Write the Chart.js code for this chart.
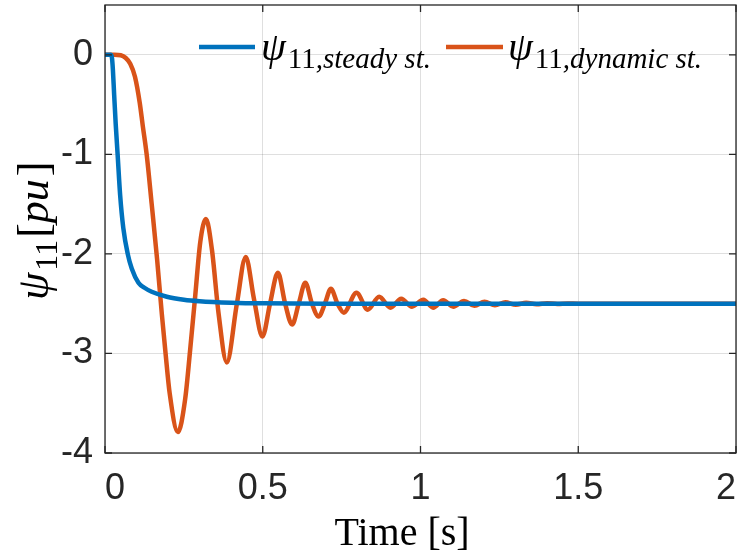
<!DOCTYPE html>
<html>
<head>
<meta charset="utf-8">
<script src="https://cdn.jsdelivr.net/npm/chart.js@4.4.0/dist/chart.umd.min.js"></script>
<style>
  html, body { margin: 0; padding: 0; background: #fff; }
  #wrap { width: 737px; height: 560px; }
</style>
</head>
<body>
<div id="wrap"><canvas id="fluxChart" width="737" height="560"></canvas></div>
<script>
// values
const steadyTime = [0, 0.018, 0.022, 0.025, 0.029, 0.034, 0.040, 0.048, 0.058, 0.072, 0.085, 0.106, 0.125, 0.148, 0.196, 0.25, 0.3, 0.4, 0.5, 0.7, 1.0, 1.5, 2.0];
const steadyFlux = [0, 0, -0.03, -0.15, -0.40, -0.70, -1.00, -1.41, -1.74, -2.00, -2.15, -2.29, -2.34, -2.38, -2.43, -2.46, -2.475, -2.49, -2.497, -2.5, -2.5, -2.5, -2.5];

const dynamicTime = [0, 0.03, 0.05, 0.065, 0.08, 0.095, 0.11, 0.12, 0.132, 0.148, 0.165, 0.18, 0.192, 0.205, 0.231, 0.254, 0.27, 0.286, 0.302, 0.32, 0.339, 0.36, 0.386, 0.418, 0.446, 0.472, 0.499, 0.523, 0.548, 0.571, 0.593, 0.614, 0.635, 0.656, 0.677, 0.697, 0.716, 0.737, 0.757, 0.797, 0.833, 0.869, 0.905, 0.939, 0.973, 1.009, 1.040, 1.072, 1.104, 1.138, 1.171, 1.203, 1.236, 1.269, 1.302, 1.335, 1.368, 1.401, 1.434, 1.467, 1.5, 2.0];
const dynamicFlux = [0, 0, -0.005, -0.03, -0.09, -0.22, -0.48, -0.72, -1.0, -1.5, -2.05, -2.6, -3.0, -3.4, -3.79, -3.46, -2.96, -2.42, -1.88, -1.65, -1.96, -2.6, -3.09, -2.5, -2.03, -2.45, -2.83, -2.5, -2.19, -2.5, -2.71, -2.5, -2.29, -2.5, -2.63, -2.5, -2.35, -2.5, -2.59, -2.39, -2.56, -2.43, -2.54, -2.45, -2.53, -2.46, -2.54, -2.465, -2.53, -2.472, -2.522, -2.48, -2.515, -2.487, -2.51, -2.492, -2.506, -2.495, -2.503, -2.498, -2.5, -2.5];

const xTicks = [0, 0.5, 1, 1.5, 2];
const yTicks = [-4, -3, -2, -1, 0];

const blue = "#0072BD";
const orange = "#D95319";
const axisColor = "#262626";

function toPoints(xs, ys) {
  return xs.map((x, i) => ({ x: x, y: ys[i] }));
}

// psi with subscripts (legend + y title)
function drawPsi(ctx, x, y, size, subItalic, tail) {
  const sub = Math.round(size * 0.72);
  ctx.font = "italic " + size + "px 'Liberation Serif'";
  ctx.fillText("\u03C8", x, y);
  x += ctx.measureText("\u03C8").width + 2;
  ctx.font = sub + "px 'Liberation Serif'";
  ctx.fillText("11", x, y + size * 0.2);
  x += ctx.measureText("11").width;
  if (subItalic) {
    ctx.font = "italic " + sub + "px 'Liberation Serif'";
    ctx.fillText(subItalic, x, y + size * 0.2);
    x += ctx.measureText(subItalic).width;
  }
  if (tail) {
    x += 2;
    ctx.font = size + "px 'Liberation Serif'";
    ctx.fillText("[", x, y);
    x += ctx.measureText("[").width;
    ctx.font = "italic " + size + "px 'Liberation Serif'";
    ctx.fillText("pu", x, y);
    x += ctx.measureText("pu").width + 3;
    ctx.font = size + "px 'Liberation Serif'";
    ctx.fillText("]", x, y);
    x += ctx.measureText("]").width;
  }
  return x;
}

const frame = {
  id: "frame",
  afterDatasetsDraw(chart) {
    const { ctx, chartArea: a, scales } = chart;
    ctx.save();
    ctx.strokeStyle = axisColor;
    ctx.lineWidth = 1.3;
    ctx.strokeRect(a.left, a.top, a.right - a.left, a.bottom - a.top);
    const len = 7;
    ctx.beginPath();
    xTicks.forEach(v => {
      const px = scales.x.getPixelForValue(v);
      ctx.moveTo(px, a.bottom); ctx.lineTo(px, a.bottom - len);
      ctx.moveTo(px, a.top); ctx.lineTo(px, a.top + len);
    });
    yTicks.forEach(v => {
      const py = scales.y.getPixelForValue(v);
      ctx.moveTo(a.left, py); ctx.lineTo(a.left + len, py);
      ctx.moveTo(a.right, py); ctx.lineTo(a.right - len, py);
    });
    ctx.stroke();

    // legend
    ctx.textBaseline = "alphabetic";
    ctx.fillStyle = "#000";
    ctx.lineWidth = 4.5;
    ctx.strokeStyle = blue;
    ctx.beginPath(); ctx.moveTo(199, 47); ctx.lineTo(255, 47); ctx.stroke();
    drawPsi(ctx, 261, 60, 40, ",steady st.", false);
    ctx.strokeStyle = orange;
    ctx.beginPath(); ctx.moveTo(446, 47); ctx.lineTo(503, 47); ctx.stroke();
    drawPsi(ctx, 508, 60, 40, ",dynamic st.", false);

    // x title
    ctx.font = "40px 'Liberation Serif'";
    ctx.textAlign = "center";
    ctx.fillText("Time [s]", 402, 545);

    // y title
    ctx.translate(48, 226);
    ctx.rotate(-Math.PI / 2);
    ctx.textAlign = "left";
    drawPsi(ctx, -74, 0, 44, null, true);
    ctx.restore();
  }
};

const config = {
  type: "line",
  data: {
    datasets: [
      {
        label: "steady",
        data: toPoints(steadyTime, steadyFlux),
        borderColor: blue,
        backgroundColor: blue,
        borderWidth: 4.5,
        pointRadius: 0,
        cubicInterpolationMode: "monotone",
      },
      {
        label: "dynamic",
        data: toPoints(dynamicTime, dynamicFlux),
        borderColor: orange,
        backgroundColor: orange,
        borderWidth: 4.5,
        pointRadius: 0,
        cubicInterpolationMode: "monotone",
      },
    ],
  },
  options: {
    responsive: false,
    animation: false,
    events: [],
    layout: { padding: { top: 5, right: 1, left: 0, bottom: 0 } },
    plugins: { legend: { display: false }, tooltip: { enabled: false } },
    scales: {
      x: {
        type: "linear",
        min: 0,
        max: 2,
        border: { display: false },
        grid: { color: "rgba(38,38,38,0.15)", lineWidth: 1, drawTicks: false },
        ticks: {
          stepSize: 0.5,
          maxRotation: 0,
          padding: 14,
          align: "inner",
          color: axisColor,
          font: { family: "'Liberation Sans'", size: 36 },
          callback: (v) => String(v),
        },
        afterFit(scale) {
          scale.height = 107;
          scale.paddingLeft = 0;
          scale.paddingRight = 0;
        },
      },
      y: {
        min: -4,
        max: 0.5,
        border: { display: false },
        grid: { color: "rgba(38,38,38,0.15)", lineWidth: 1, drawTicks: false },
        ticks: {
          stepSize: 1,
          includeBounds: false,
          padding: 12,
          color: axisColor,
          font: { family: "'Liberation Sans'", size: 36 },
        },
        afterFit(scale) {
          scale.width = 105;
          scale.paddingTop = 0;
          scale.paddingBottom = 0;
        },
      },
    },
  },
  plugins: [frame],
};

var fluxChart = new Chart(document.getElementById("fluxChart"), config);
</script>
</body>
</html>
